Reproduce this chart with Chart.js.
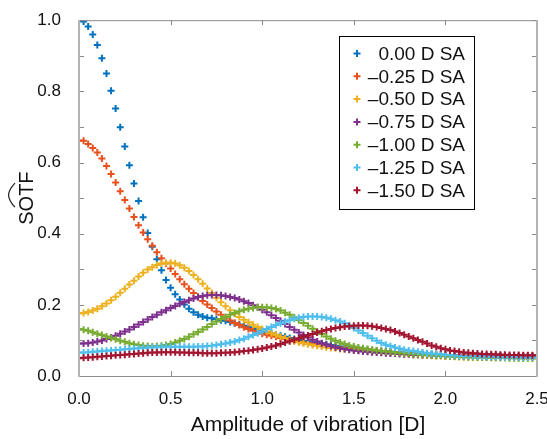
<!DOCTYPE html>
<html>
<head>
<meta charset="utf-8">
<script src="https://cdn.jsdelivr.net/npm/chart.js@4.4.1/dist/chart.umd.min.js"></script>
<style>
  html, body { margin: 0; padding: 0; background: #fff; overflow: hidden; }
  #wrap { position: relative; width: 547px; height: 439px; }
</style>
</head>
<body>
<div id="wrap"><canvas id="sotfChart"></canvas></div>
<script>
// Amplitude of vibration [D]
const amplitude = [
  0, 0.025, 0.05, 0.075, 0.1, 0.125, 0.15, 0.175, 0.2, 0.225,
  0.25, 0.275, 0.3, 0.325, 0.35, 0.375, 0.4, 0.425, 0.45, 0.475,
  0.5, 0.525, 0.55, 0.575, 0.6, 0.625, 0.65, 0.675, 0.7, 0.725,
  0.75, 0.775, 0.8, 0.825, 0.85, 0.875, 0.9, 0.925, 0.95, 0.975,
  1, 1.025, 1.05, 1.075, 1.1, 1.125, 1.15, 1.175, 1.2, 1.225,
  1.25, 1.275, 1.3, 1.325, 1.35, 1.375, 1.4, 1.425, 1.45, 1.475,
  1.5, 1.525, 1.55, 1.575, 1.6, 1.625, 1.65, 1.675, 1.7, 1.725,
  1.75, 1.775, 1.8, 1.825, 1.85, 1.875, 1.9, 1.925, 1.95, 1.975,
  2, 2.025, 2.05, 2.075, 2.1, 2.125, 2.15, 2.175, 2.2, 2.225,
  2.25, 2.275, 2.3, 2.325, 2.35, 2.375, 2.4, 2.425, 2.45, 2.475,
  2.5
];

// SOTF cho từng mức quang sai cầu (SA)
const sa000 = [
  1.000, 0.996, 0.982, 0.960, 0.930, 0.893, 0.850, 0.802, 0.752, 0.699,
  0.645, 0.592, 0.541, 0.492, 0.446, 0.402, 0.363, 0.328, 0.297, 0.270,
  0.248, 0.230, 0.215, 0.201, 0.189, 0.179, 0.172, 0.167, 0.164, 0.162,
  0.160, 0.157, 0.155, 0.152, 0.148, 0.145, 0.141, 0.137, 0.134, 0.131,
  0.128, 0.124, 0.120, 0.116, 0.113, 0.110, 0.107, 0.104, 0.102, 0.099,
  0.097, 0.095, 0.093, 0.091, 0.089, 0.087, 0.085, 0.083, 0.081, 0.079,
  0.078, 0.076, 0.075, 0.073, 0.072, 0.071, 0.070, 0.069, 0.068, 0.067,
  0.066, 0.065, 0.064, 0.063, 0.062, 0.062, 0.061, 0.060, 0.060, 0.059,
  0.059, 0.058, 0.058, 0.058, 0.057, 0.057, 0.057, 0.057, 0.056, 0.056,
  0.056, 0.056, 0.056, 0.056, 0.055, 0.055, 0.055, 0.055, 0.055, 0.055,
  0.055
];
const sa025 = [
  0.662, 0.661, 0.652, 0.641, 0.628, 0.611, 0.590, 0.568, 0.544, 0.519,
  0.495, 0.471, 0.447, 0.424, 0.403, 0.384, 0.366, 0.348, 0.331, 0.316,
  0.302, 0.287, 0.272, 0.258, 0.245, 0.233, 0.222, 0.211, 0.201, 0.191,
  0.181, 0.172, 0.164, 0.156, 0.149, 0.143, 0.137, 0.132, 0.127, 0.123,
  0.119, 0.116, 0.113, 0.110, 0.107, 0.104, 0.101, 0.099, 0.096, 0.094,
  0.092, 0.090, 0.088, 0.086, 0.084, 0.083, 0.081, 0.080, 0.078, 0.077,
  0.076, 0.074, 0.073, 0.072, 0.071, 0.070, 0.069, 0.068, 0.067, 0.066,
  0.065, 0.064, 0.064, 0.063, 0.062, 0.062, 0.061, 0.061, 0.060, 0.060,
  0.059, 0.059, 0.059, 0.058, 0.058, 0.058, 0.058, 0.057, 0.057, 0.057,
  0.057, 0.057, 0.057, 0.056, 0.056, 0.056, 0.056, 0.056, 0.056, 0.056,
  0.056
];
const sa050 = [
  0.176, 0.177, 0.180, 0.184, 0.189, 0.196, 0.204, 0.213, 0.223, 0.234,
  0.245, 0.257, 0.268, 0.280, 0.290, 0.299, 0.306, 0.312, 0.316, 0.318,
  0.318, 0.316, 0.311, 0.304, 0.295, 0.284, 0.272, 0.259, 0.246, 0.233,
  0.220, 0.207, 0.196, 0.185, 0.175, 0.166, 0.158, 0.151, 0.144, 0.138,
  0.132, 0.126, 0.120, 0.115, 0.110, 0.106, 0.102, 0.098, 0.095, 0.092,
  0.089, 0.087, 0.085, 0.083, 0.081, 0.079, 0.078, 0.076, 0.075, 0.074,
  0.073, 0.072, 0.071, 0.070, 0.069, 0.068, 0.067, 0.066, 0.065, 0.064,
  0.063, 0.062, 0.061, 0.060, 0.059, 0.058, 0.058, 0.057, 0.056, 0.056,
  0.055, 0.055, 0.054, 0.054, 0.053, 0.053, 0.053, 0.052, 0.052, 0.052,
  0.052, 0.051, 0.051, 0.051, 0.051, 0.051, 0.050, 0.050, 0.050, 0.050,
  0.050
];
const sa075 = [
  0.091, 0.091, 0.092, 0.094, 0.097, 0.100, 0.104, 0.108, 0.113, 0.119,
  0.125, 0.131, 0.138, 0.145, 0.152, 0.159, 0.166, 0.172, 0.179, 0.185,
  0.191, 0.197, 0.203, 0.208, 0.213, 0.218, 0.222, 0.225, 0.227, 0.228,
  0.228, 0.227, 0.225, 0.222, 0.219, 0.215, 0.210, 0.205, 0.199, 0.193,
  0.186, 0.179, 0.171, 0.163, 0.155, 0.146, 0.138, 0.130, 0.122, 0.115,
  0.108, 0.102, 0.097, 0.092, 0.088, 0.084, 0.081, 0.078, 0.076, 0.074,
  0.072, 0.071, 0.069, 0.068, 0.067, 0.066, 0.065, 0.064, 0.063, 0.063,
  0.062, 0.061, 0.061, 0.060, 0.060, 0.059, 0.059, 0.058, 0.058, 0.058,
  0.057, 0.057, 0.057, 0.057, 0.056, 0.056, 0.056, 0.056, 0.056, 0.056,
  0.056, 0.055, 0.055, 0.055, 0.055, 0.055, 0.055, 0.055, 0.055, 0.055,
  0.055
];
const sa100 = [
  0.132, 0.130, 0.127, 0.123, 0.119, 0.115, 0.111, 0.107, 0.103, 0.099,
  0.096, 0.092, 0.089, 0.087, 0.085, 0.084, 0.083, 0.084, 0.085, 0.087,
  0.090, 0.094, 0.099, 0.104, 0.110, 0.117, 0.124, 0.131, 0.138, 0.146,
  0.153, 0.160, 0.166, 0.172, 0.177, 0.182, 0.186, 0.189, 0.191, 0.193,
  0.193, 0.193, 0.191, 0.188, 0.184, 0.178, 0.172, 0.165, 0.157, 0.149,
  0.141, 0.133, 0.125, 0.118, 0.111, 0.105, 0.099, 0.094, 0.090, 0.086,
  0.083, 0.080, 0.078, 0.076, 0.074, 0.072, 0.070, 0.069, 0.068, 0.066,
  0.065, 0.064, 0.063, 0.062, 0.061, 0.060, 0.059, 0.058, 0.057, 0.057,
  0.056, 0.055, 0.055, 0.054, 0.054, 0.053, 0.053, 0.052, 0.052, 0.052,
  0.051, 0.051, 0.051, 0.051, 0.050, 0.050, 0.050, 0.050, 0.050, 0.050,
  0.050
];
const sa125 = [
  0.066, 0.066, 0.067, 0.068, 0.069, 0.070, 0.071, 0.072, 0.073, 0.074,
  0.075, 0.076, 0.077, 0.078, 0.079, 0.080, 0.081, 0.081, 0.082, 0.082,
  0.082, 0.082, 0.082, 0.082, 0.082, 0.082, 0.083, 0.083, 0.084, 0.085,
  0.087, 0.089, 0.091, 0.094, 0.097, 0.101, 0.105, 0.110, 0.115, 0.120,
  0.126, 0.132, 0.138, 0.143, 0.148, 0.153, 0.157, 0.161, 0.164, 0.166,
  0.167, 0.167, 0.167, 0.166, 0.164, 0.161, 0.157, 0.153, 0.148, 0.142,
  0.135, 0.128, 0.121, 0.113, 0.106, 0.099, 0.093, 0.088, 0.084, 0.080,
  0.077, 0.074, 0.072, 0.070, 0.068, 0.066, 0.064, 0.063, 0.062, 0.061,
  0.060, 0.059, 0.058, 0.057, 0.057, 0.056, 0.056, 0.055, 0.055, 0.054,
  0.054, 0.054, 0.053, 0.053, 0.053, 0.053, 0.052, 0.052, 0.052, 0.052,
  0.052
];
const sa150 = [
  0.050, 0.051, 0.052, 0.053, 0.054, 0.055, 0.056, 0.057, 0.058, 0.059,
  0.060, 0.061, 0.062, 0.063, 0.064, 0.065, 0.066, 0.066, 0.067, 0.067,
  0.067, 0.067, 0.066, 0.066, 0.065, 0.065, 0.065, 0.064, 0.064, 0.064,
  0.064, 0.065, 0.065, 0.066, 0.067, 0.068, 0.070, 0.071, 0.073, 0.075,
  0.077, 0.080, 0.083, 0.086, 0.090, 0.094, 0.098, 0.102, 0.106, 0.110,
  0.114, 0.118, 0.122, 0.126, 0.129, 0.132, 0.135, 0.137, 0.139, 0.140,
  0.141, 0.142, 0.142, 0.141, 0.140, 0.138, 0.135, 0.132, 0.129, 0.125,
  0.121, 0.116, 0.111, 0.106, 0.101, 0.096, 0.091, 0.086, 0.082, 0.078,
  0.075, 0.072, 0.070, 0.068, 0.066, 0.065, 0.064, 0.063, 0.062, 0.062,
  0.061, 0.061, 0.060, 0.060, 0.059, 0.059, 0.059, 0.058, 0.058, 0.058,
  0.058
];

const seriesLabels = ['0.00 D SA', '\u20130.25 D SA', '\u20130.50 D SA', '\u20130.75 D SA',
                      '\u20131.00 D SA', '\u20131.25 D SA', '\u20131.50 D SA'];
const seriesValues = [sa000, sa025, sa050, sa075, sa100, sa125, sa150];
const seriesColors = ['#0072BD', '#E8501E', '#EDB120', '#7E2F8E', '#77AC30', '#4DBEEE', '#A2142F'];

const FONT = "'Liberation Sans', Arial, Helvetica, sans-serif";

// Khung, vạch chia hướng vào trong và dấu mũ trên SOTF
const framePlugin = {
    id: 'frame',
    afterDatasetsDraw(chart) {
        const ctx = chart.ctx;
        const a = chart.chartArea;
        const xs = chart.scales.x;
        const ys = chart.scales.y;
        ctx.save();
        // vạch chia
        ctx.strokeStyle = '#8a8a8a';
        ctx.lineWidth = 1;
        ctx.beginPath();
        ys.ticks.forEach(t => {
            const y = Math.round(ys.getPixelForValue(t.value)) + 0.5;
            ctx.moveTo(a.left, y); ctx.lineTo(a.left + 5, y);
            ctx.moveTo(a.right, y); ctx.lineTo(a.right - 5, y);
        });
        xs.ticks.forEach(t => {
            const x = Math.round(xs.getPixelForValue(t.value)) + 0.5;
            ctx.moveTo(x, a.bottom); ctx.lineTo(x, a.bottom - 5);
            ctx.moveTo(x, a.top); ctx.lineTo(x, a.top + 5);
        });
        ctx.stroke();
        // trên và dưới
        ctx.strokeStyle = '#8c8c8c';
        ctx.beginPath();
        ctx.moveTo(a.left, a.top + 0.5); ctx.lineTo(a.right, a.top + 0.5);
        ctx.moveTo(a.left, a.bottom + 0.5); ctx.lineTo(a.right, a.bottom + 0.5);
        ctx.stroke();
        // trái và phải
        ctx.strokeStyle = '#b4b4b4';
        ctx.lineWidth = 2;
        ctx.beginPath();
        ctx.moveTo(a.left, a.top); ctx.lineTo(a.left, a.bottom + 1);
        ctx.moveTo(a.right, a.top); ctx.lineTo(a.right, a.bottom + 1);
        ctx.stroke();
        // dấu mũ
        const cy = (a.top + a.bottom) / 2 - 3;
        ctx.strokeStyle = '#222';
        ctx.lineWidth = 1.2;
        ctx.beginPath();
        ctx.moveTo(15, cy - 12);
        ctx.quadraticCurveTo(9, cy - 6, 8.5, cy);
        ctx.quadraticCurveTo(9, cy + 6, 15, cy + 12);
        ctx.stroke();
        ctx.restore();
    }
};

// Chú thích có khung, chữ căn phải
const boxLegendPlugin = {
    id: 'boxLegend',
    afterDraw(chart) {
        const ctx = chart.ctx;
        const left = 339, top = 36, w = 135, h = 173;
        ctx.save();
        ctx.fillStyle = '#fff';
        ctx.fillRect(left, top, w, h);
        ctx.strokeStyle = '#000';
        ctx.lineWidth = 1;
        ctx.strokeRect(left + 0.5, top + 0.5, w, h);
        ctx.font = '19px ' + FONT;
        ctx.textAlign = 'right';
        ctx.textBaseline = 'middle';
        chart.data.datasets.forEach((ds, i) => {
            const y = 53.5 + i * 22.8;
            ctx.strokeStyle = ds.borderColor;
            ctx.lineWidth = 2;
            ctx.beginPath();
            ctx.moveTo(357 - 3.5, y); ctx.lineTo(357 + 3.5, y);
            ctx.moveTo(357, y - 3.5); ctx.lineTo(357, y + 3.5);
            ctx.stroke();
            ctx.fillStyle = '#111';
            ctx.fillText(ds.label, 465, y + 1);
        });
        ctx.restore();
    }
};

function renderSotfChart() {
    const ctx = document.getElementById('sotfChart').getContext('2d');
    const datasets = seriesValues.map((vals, i) => ({
        label: seriesLabels[i],
        data: vals,
        borderColor: seriesColors[i],
        backgroundColor: seriesColors[i],
        showLine: false,
        pointStyle: 'cross',
        pointRadius: 3.5,
        pointBorderWidth: 2,
        pointHoverRadius: 3.5,
        order: seriesValues.length - i
    }));

    new Chart(ctx, {
        type: 'line',
        data: { labels: amplitude, datasets: datasets },
        options: {
            responsive: true,
            maintainAspectRatio: false,
            animation: false,
            layout: { padding: { top: 16, right: 10, left: 0, bottom: 0 } },
            plugins: {
                legend: { display: false },
                tooltip: { enabled: false }
            },
            scales: {
                x: {
                    type: 'linear',
                    min: 0,
                    max: 2.5,
                    grid: { display: false },
                    border: { display: false },
                    ticks: {
                        stepSize: 0.5,
                        padding: 5,
                        color: '#111',
                        font: { family: FONT, size: 17 },
                        maxRotation: 0,
                        callback: v => v.toFixed(1)
                    },
                    title: {
                        display: true,
                        text: 'Amplitude of vibration [D]',
                        color: '#111',
                        font: { family: FONT, size: 21 },
                        padding: { top: 0, bottom: 1 }
                    },
                    afterFit(scale) {
                        scale.height = 63;
                        scale.paddingLeft = 0;
                        scale.paddingRight = 10;
                    }
                },
                y: {
                    min: 0,
                    max: 1,
                    grid: { display: false },
                    border: { display: false },
                    ticks: {
                        stepSize: 0.1,
                        autoSkip: false,
                        padding: 10,
                        color: '#111',
                        font: { family: FONT, size: 17 },
                        callback: function(value) {
                            const k = Math.round(value * 10);
                            return k % 2 === 0 ? (k / 10).toFixed(1) : '';
                        }
                    },
                    title: {
                        display: true,
                        text: 'SOTF',
                        color: '#111',
                        font: { family: FONT, size: 20 },
                        padding: { top: 15, bottom: 0 }
                    },
                    afterFit(scale) {
                        scale.width = 79;
                    }
                }
            }
        },
        plugins: [framePlugin, boxLegendPlugin]
    });
}

document.addEventListener('DOMContentLoaded', renderSotfChart);
</script>
</body>
</html>
